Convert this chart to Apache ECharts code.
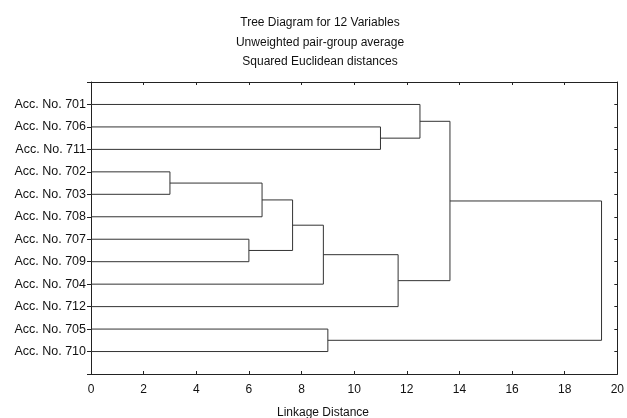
<!DOCTYPE html>
<html lang="en">
<head>
    <meta charset="UTF-8">
    <title>Tree Diagram</title>
    <script src="https://cdn.jsdelivr.net/npm/echarts@6/dist/echarts.min.js"></script>
    <style>
        body { margin: 0; background: #fff; }
        #main { width: 627px; height: 418px; }
    </style>
</head>
<body>
    <div id="main"></div>
</body>
<script>
    // leaves, top to bottom
    var leafNames = ['Acc. No. 701', 'Acc. No. 706', 'Acc. No. 711', 'Acc. No. 702',
        'Acc. No. 703', 'Acc. No. 708', 'Acc. No. 707', 'Acc. No. 709',
        'Acc. No. 704', 'Acc. No. 712', 'Acc. No. 705', 'Acc. No. 710'];

    // merges: node 12 + k joins mergeA[k] and mergeB[k] at mergeDist[k]
    var mergeA = [3, 6, 12, 14, 15, 10, 1, 16, 0, 20, 21];
    var mergeB = [4, 7, 5, 13, 8, 11, 2, 9, 18, 19, 17];
    var mergeDist = [3.0, 6.0, 6.5, 7.66, 8.83, 9.0, 11.0, 11.67, 12.5, 13.64, 19.4];

    var xTicks = [0, 2, 4, 6, 8, 10, 12, 14, 16, 18, 20];

    function buildLinks() {
        var pos = [], height = [], links = [];
        for (let i = 0; i < leafNames.length; i++) {
            pos.push(i);
            height.push(0);
        }
        for (let k = 0; k < mergeA.length; k++) {
            let a = mergeA[k], b = mergeB[k];
            links.push([height[a], pos[a], mergeDist[k], pos[b], height[b]]);
            pos.push((pos[a] + pos[b]) / 2);
            height.push(mergeDist[k]);
        }
        return links;
    }

    var chart = echarts.init(document.getElementById('main'));
    var font = 'Liberation Sans, Arial, sans-serif';
    var frameLine = { show: true, onZero: false, lineStyle: { color: '#222', width: 1 } };

    var option = {
        backgroundColor: '#fff',
        animation: false,
        title: [
            {
                text: 'Tree Diagram for 12 Variables\nUnweighted pair-group average\nSquared Euclidean distances',
                left: 315,
                top: 8,
                textAlign: 'center',
                textStyle: { fontFamily: font, fontSize: 12, fontWeight: 'normal', color: '#111', lineHeight: 19.5 }
            },
            {
                text: 'Linkage Distance',
                left: 318,
                top: 402,
                textAlign: 'center',
                textStyle: { fontFamily: font, fontSize: 12, fontWeight: 'normal', color: '#111' }
            }
        ],
        grid: { left: 91, right: 7, top: 82, bottom: 44 },
        xAxis: [
            {
                type: 'value', min: 0, max: 20, interval: 2, position: 'bottom',
                axisLine: frameLine,
                axisTick: { inside: true, length: 3, lineStyle: { color: '#222' } },
                splitLine: { show: false },
                axisLabel: {
                    margin: 10, color: '#111', fontFamily: font, fontSize: 12,
                    formatter: function (v) { return xTicks.indexOf(v) >= 0 ? String(v) : ''; }
                }
            },
            {
                type: 'value', min: 0, max: 20, interval: 2, position: 'top',
                axisLine: frameLine,
                axisTick: { inside: true, length: 3, lineStyle: { color: '#222' } },
                splitLine: { show: false },
                axisLabel: { show: false }
            }
        ],
        yAxis: [
            {
                type: 'value', inverse: true, min: -1, max: 12, interval: 1, position: 'left',
                axisLine: frameLine,
                axisTick: { show: true, length: 4, lineStyle: { color: '#222' } },
                splitLine: { show: false },
                axisLabel: {
                    margin: 5, color: '#111', fontFamily: font, fontSize: 12.5,
                    formatter: function (v) { return leafNames[v] || ''; }
                }
            },
            {
                type: 'value', inverse: true, min: -1, max: 12, interval: 1, position: 'right',
                axisLine: frameLine,
                axisTick: { inside: true, length: 3, lineStyle: { color: '#222' } },
                splitLine: { show: false },
                axisLabel: { show: false }
            }
        ],
        series: [
            {
                type: 'custom',
                xAxisIndex: 0,
                yAxisIndex: 0,
                data: buildLinks(),
                encode: { x: [0, 2, 4], y: [1, 3] },
                renderItem: function (params, api) {
                    var p1 = api.coord([api.value(0), api.value(1)]);
                    var p2 = api.coord([api.value(2), api.value(1)]);
                    var p3 = api.coord([api.value(2), api.value(3)]);
                    var p4 = api.coord([api.value(4), api.value(3)]);
                    return {
                        type: 'polyline',
                        shape: { points: [p1, p2, p3, p4] },
                        style: { stroke: '#333', lineWidth: 1, fill: null }
                    };
                }
            }
        ]
    };
    chart.setOption(option);
</script>
</html>
